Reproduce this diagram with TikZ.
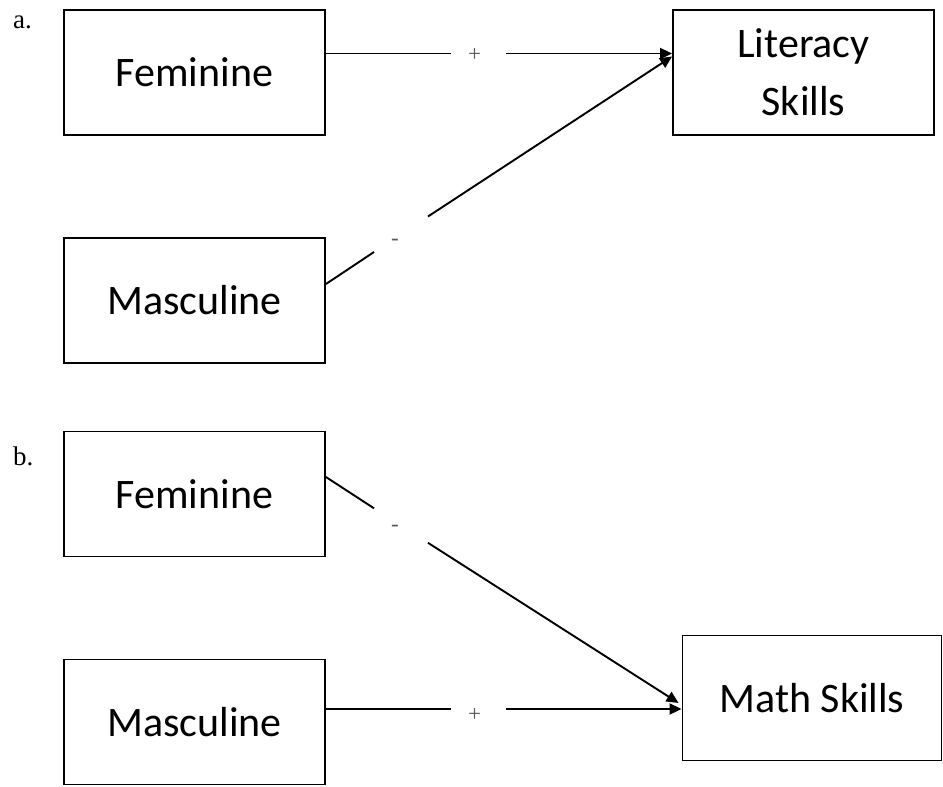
\documentclass[tikz,border=0pt]{standalone}
\usepackage{fontspec}
\setmainfont{Carlito}
\newfontfamily\serifx{Liberation Serif}
\usetikzlibrary{arrows.meta}
\begin{document}
\begin{tikzpicture}[x=1pt,y=-1pt,
  box/.style={draw, line width=1.9pt, minimum width=261pt, minimum height=125pt, inner sep=0pt,
    align=center, font=\fontsize{42}{58}\selectfont},
  conn/.style={line width=1.9pt},
  arr/.style={line width=1.9pt, -{Triangle[length=12pt,width=11pt]}},
  sign/.style={inner sep=0pt, text=black!65, font=\serifx\fontsize{23}{26}\selectfont},
  tag/.style={inner sep=0pt, anchor=base west, font=\serifx\fontsize{27}{30}\selectfont}]
\useasboundingbox (0,0) rectangle (943,787);

% panel a
\node[tag] (ta) at (13,28) {a.};
\node[box] (fa) at (194.5,72.5) {Feminine};
\node[box] (ma) at (194.5,300.5) {Masculine};
\node[box] (lit) at (803.5,72.5) {Literacy\\Skills};

\coordinate (fa-o) at ([yshift=19pt]fa.east);
\coordinate (fa-g1) at (451,53.5);
\coordinate (fa-g2) at (506,53.5);
\coordinate (lit-i1) at ([yshift=19pt]lit.west);
\draw[conn] (fa-o) -- (fa-g1);
\node[sign] (pa) at (474.5,55) {+};
\draw[arr] (fa-g2) -- (lit-i1);

\coordinate (ma-o) at ([yshift=16.5pt]ma.east);
\coordinate (ma-g1) at (374,252);
\coordinate (ma-g2) at (428,216.5);
\coordinate (lit-i2) at ([yshift=16pt]lit.west);
\draw[conn] (ma-o) -- (ma-g1);
\node[sign] (na) at (395,242) {-};
\draw[arr] (ma-g2) -- (lit-i2);

% panel b
\node[tag] (tb) at (13,465) {b.};
\node[box] (fb) at (194.5,494) {Feminine};
\node[box] (mb) at (194.5,722) {Masculine};
\node[box, minimum width=259pt] (math) at (812,698) {Math Skills};

\coordinate (fb-o) at ([yshift=17pt]fb.east);
\coordinate (fb-g1) at (374,508.3);
\coordinate (fb-g2) at (428,542.8);
\coordinate (math-i1) at ([xshift=-3pt,yshift=-5pt]math.west);
\draw[conn] (fb-o) -- (fb-g1);
\node[sign] (nb) at (395,528) {-};
\draw[arr] (fb-g2) -- (math-i1);

\coordinate (mb-o) at ([yshift=13pt]mb.east);
\coordinate (mb-g1) at (451,709);
\coordinate (mb-g2) at (506,709);
\coordinate (math-i2) at ([yshift=-11pt]math.west);
\draw[conn] (mb-o) -- (mb-g1);
\node[sign] (pb) at (474.5,715) {+};
\draw[arr] (mb-g2) -- (math-i2);
\end{tikzpicture}
\end{document}
